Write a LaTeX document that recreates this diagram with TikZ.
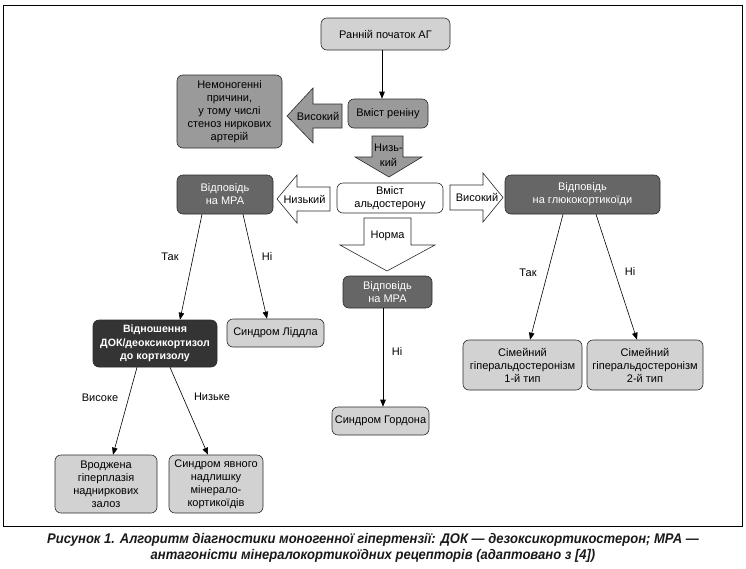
\documentclass[tikz,border=0pt]{standalone}
\usepackage{fontspec}
\setmainfont{Liberation Sans}
\newfontface\capfont{Liberation Sans Bold Italic}[FakeStretch=0.93]
\usetikzlibrary{arrows.meta}
\definecolor{lightg}{HTML}{D2D2D2}
\definecolor{midg}{HTML}{9A9A9A}
\definecolor{darkg}{HTML}{666666}
\definecolor{vdarkg}{HTML}{343434}
\definecolor{edgeg}{HTML}{2A2A2A}
\begin{document}
\begin{tikzpicture}[x=1pt,y=-1pt,
  box/.style={draw=edgeg,line width=0.6pt,rounded corners=6pt,align=center,
    inner sep=0pt,font=\fontsize{11}{13}\selectfont},
  lbox/.style={box,fill=lightg},
  mbox/.style={box,fill=midg},
  dbox/.style={box,fill=darkg,text=white},
  vbox/.style={box,fill=vdarkg,text=white,font=\fontsize{10.6}{13.5}\selectfont\bfseries},
  wbox/.style={box,fill=white},
  conn/.style={line width=0.6pt,-{Triangle[length=7pt,width=5.5pt]}},
  lab/.style={font=\fontsize{11}{13}\selectfont,inner sep=0pt},
  bigarrow/.style={draw=edgeg,line width=0.6pt,line join=miter},
]
\useasboundingbox (0,0) rectangle (746,568);
\draw[line width=0.9pt] (3,5) rectangle (742,526);

% nodes
\node[lbox,minimum width=129pt,minimum height=32pt] (start) at (385.5,34) {Ранній початок АГ};
\node[mbox,minimum width=80pt,minimum height=29pt] (renin) at (388,113.5) {Вміст реніну};
\node[mbox,minimum width=105pt,minimum height=73pt] (nonmono) at (229.5,111.5)
  {Немоногенні\\причини,\\у тому числі\\стеноз ниркових\\артерій};
\node[wbox,minimum width=106pt,minimum height=30pt] (aldo) at (390,198) {Вміст\\альдостерону};
\node[dbox,minimum width=96pt,minimum height=39pt] (mraL) at (225,194.5) {Відповідь\\на МРА};
\node[dbox,minimum width=155pt,minimum height=39pt] (gluco) at (582.5,194.5) {Відповідь\\на глюкокортикоїди};
\node[dbox,minimum width=89pt,minimum height=32pt] (mraC) at (387.5,292) {Відповідь\\на МРА};
\node[vbox,minimum width=124pt,minimum height=47pt] (ratio) at (155,343.5)
  {Відношення\\ДОК/деоксикортизол\\до кортизолу};
\node[lbox,minimum width=97pt,minimum height=28pt] (liddle) at (275.5,333) {Синдром Ліддла};
\node[lbox,minimum width=97pt,minimum height=28pt] (gordon) at (380.5,421) {Синдром Гордона};
\node[lbox,minimum width=102pt,minimum height=58pt] (cah) at (106,484)
  {Вроджена\\гіперплазія\\надниркових\\залоз};
\node[lbox,minimum width=94pt,minimum height=58pt] (ame) at (216,484)
  {Синдром явного\\надлишку\\мінерало-\\кортикоїдів};
\node[lbox,minimum width=119pt,minimum height=50pt] (fh1) at (522.5,365)
  {Сімейний\\гіперальдостеронізм\\1-й тип};
\node[lbox,minimum width=116pt,minimum height=50pt] (fh2) at (645,365)
  {Сімейний\\гіперальдостеронізм\\2-й тип};

% block arrows
\draw[bigarrow,fill=midg] (342,104) -- (313,104) -- (313,88) -- (287,116) -- (313,143) -- (313,128) -- (342,128) -- cycle;
\node[lab] (avys1) at (318,116) {Високий};
\draw[bigarrow,fill=midg] (372,136) -- (403,136) -- (403,157) -- (422,157) -- (389,177) -- (355,157) -- (372,157) -- cycle;
\node[lab,align=center,font=\fontsize{11}{15}\selectfont] (anyz) at (388.5,155) {Низь-\\кий};
\draw[bigarrow,fill=white] (330,187) -- (297,187) -- (297,175) -- (277,199) -- (297,223) -- (297,211) -- (330,211) -- cycle;
\node[lab] (anyzk) at (304.5,199) {Низький};
\draw[bigarrow,fill=white] (450,185) -- (483,185) -- (483,173) -- (503,197.5) -- (483,222) -- (483,210) -- (450,210) -- cycle;
\node[lab] (avys2) at (477,197.5) {Високий};
\draw[bigarrow,fill=white] (364,218) -- (411,218) -- (411,245) -- (435,245) -- (387,271) -- (340,245) -- (364,245) -- cycle;
\node[lab] (anorm) at (387.5,236) {Норма};

% connectors
\draw[conn] ([xshift=-3.5pt]start.south) -- ([xshift=-6pt]renin.north);
\draw[conn] ([xshift=-23pt]mraL.south) -- ([xshift=25pt]ratio.north);
\draw[conn] ([xshift=18pt]mraL.south) -- ([xshift=-8.5pt]liddle.north);
\draw[conn] ([xshift=-4.5pt]mraC.south) -- ([xshift=2.5pt]gordon.north);
\draw[conn] ([xshift=-18pt]ratio.south) -- ([xshift=7pt]cah.north);
\draw[conn] ([xshift=15pt]ratio.south) -- ([xshift=-8pt]ame.north);
\draw[conn] ([xshift=-19.5pt]gluco.south) -- ([xshift=7.5pt]fh1.north);
\draw[conn] ([xshift=13.5pt]gluco.south) -- ([xshift=-8pt]fh2.north);

% labels
\node[lab] (l1) at (170,257) {Так};
\node[lab] (l2) at (267,257) {Ні};
\node[lab] (l3) at (397,352) {Ні};
\node[lab] (l4) at (100,398) {Високе};
\node[lab] (l5) at (212,397) {Низьке};
\node[lab] (l6) at (528,273) {Так};
\node[lab] (l7) at (630,272) {Ні};

% caption
\node[align=center,inner sep=0pt,text=black!90,font=\capfont\fontsize{14}{16}\selectfont] (cap) at (373,548)
  {Рисунок 1. Алгоритм діагностики моногенної гіпертензії: ДОК — дезоксикортикостерон; МРА —\\
   антагоністи мінералокортикоїдних рецепторів (адаптовано з [4])};
\end{tikzpicture}
\end{document}
